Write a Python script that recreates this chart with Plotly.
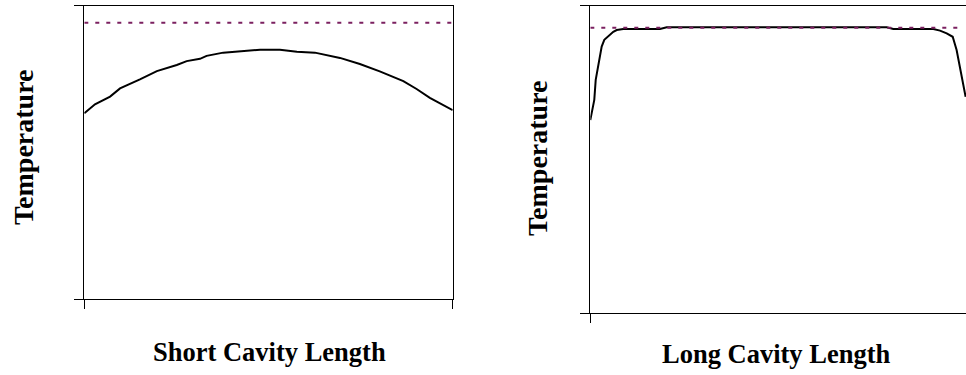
import plotly.graph_objects as go

# Short cavity (left panel) – temperature profile along the cavity
short_x = [0, 2.9, 7.0, 9.7, 15.1, 19.7, 25.1, 27.8, 31.4, 33.2, 37.7, 43.2, 47.7,
           53.1, 57.7, 62.6, 65.8, 69.4, 74.8, 80.2, 86.6, 90.2, 93.8, 100]
short_temp = [63.3, 66.4, 69.0, 71.8, 74.9, 77.7, 79.8, 81.1, 81.9, 82.9, 84.0, 84.5,
              85.0, 85.0, 84.3, 84.0, 83.1, 82.2, 80.1, 77.6, 74.3, 71.6, 68.6, 64.4]
short_limit_x = [0, 100]
short_limit = [94.2, 94.2]

# Long cavity (right panel)
long_x = [0, 0.53, 1.06, 1.44, 2.32, 3.03, 3.73, 4.79, 6.12, 7.03, 8.78, 18.55, 20.34,
          78.9, 80.65, 91.3, 93.08, 94.86, 96.46, 97.5, 98.4, 99.9]
long_temp = [62.8, 66.1, 69.4, 75.9, 82.4, 86.7, 88.9, 90.1, 91.5, 92.1, 92.4, 92.4, 93.0,
             93.0, 92.4, 92.4, 91.9, 91.0, 89.9, 85.6, 80.2, 70.4]
long_limit_x = [0, 97.8]
long_limit = [92.8, 92.8]

x_titles = ["Short Cavity Length", "Long Cavity Length"]
y_title = "Temperature"

W, H = 966, 375
LINE = "black"
DASH = "#7B2060"
FONT = "Liberation Serif, Times New Roman, serif"

fig = go.Figure()

fig.add_trace(go.Scatter(x=short_x, y=short_temp, mode="lines",
                         line=dict(color=LINE, width=2), xaxis="x", yaxis="y",
                         showlegend=False, hoverinfo="skip"))
fig.add_trace(go.Scatter(x=short_limit_x, y=short_limit, mode="lines",
                         line=dict(color=DASH, width=2, dash="4px,7px"), xaxis="x", yaxis="y",
                         showlegend=False, hoverinfo="skip"))
fig.add_trace(go.Scatter(x=long_x, y=long_temp, mode="lines",
                         line=dict(color=LINE, width=2), xaxis="x2", yaxis="y2",
                         showlegend=False, hoverinfo="skip"))
fig.add_trace(go.Scatter(x=long_limit_x, y=long_limit, mode="lines",
                         line=dict(color=DASH, width=2, dash="4px,7px"), xaxis="x2", yaxis="y2",
                         showlegend=False, hoverinfo="skip"))

def px_x(p):
    return p / W

def px_y(p):
    return (H - p) / H

common = dict(showgrid=False, zeroline=False, showticklabels=False,
              linecolor="black", linewidth=1, ticks="outside", ticklen=9,
              tickwidth=1, tickcolor="black", tickmode="array", tickvals=[0, 100],
              range=[0, 100], fixedrange=True)

fig.update_layout(
    width=W, height=H,
    margin=dict(l=0, r=0, t=0, b=0),
    paper_bgcolor="white", plot_bgcolor="white",
    xaxis=dict(domain=[px_x(84.3), px_x(452.7)], anchor="y", showline=True, mirror=True, **common),
    yaxis=dict(domain=[px_y(299), px_y(5.7)], anchor="x", showline=True, mirror=True, **common),
    xaxis2=dict(domain=[px_x(590.3), 1.0], anchor="y2", showline=True, mirror=True, **common),
    yaxis2=dict(domain=[px_y(313.3), px_y(5.7)], anchor="x2", showline=True, mirror=False, **common),
)

ytitle_font = dict(family=FONT, size=28, color="black")
xtitle_font = dict(family=FONT, size=26.5, color="black")
ann = [
    dict(text="<b>%s</b>" % y_title, x=px_x(23), y=px_y(147), textangle=-90, font=ytitle_font),
    dict(text="<b>%s</b>" % y_title, x=px_x(537), y=px_y(158), textangle=-90, font=ytitle_font),
    dict(text="<b>%s</b>" % x_titles[0], x=px_x(269), y=px_y(352), font=xtitle_font),
    dict(text="<b>%s</b>" % x_titles[1], x=px_x(776), y=px_y(354), font=xtitle_font),
]
for a in ann:
    fig.add_annotation(xref="paper", yref="paper", showarrow=False,
                       xanchor="center", yanchor="middle", **a)

fig.write_html("out.html",
               config={"displayModeBar": False, "staticPlot": True},
               post_script="document.body.style.margin='0';document.body.style.overflow='hidden';")
